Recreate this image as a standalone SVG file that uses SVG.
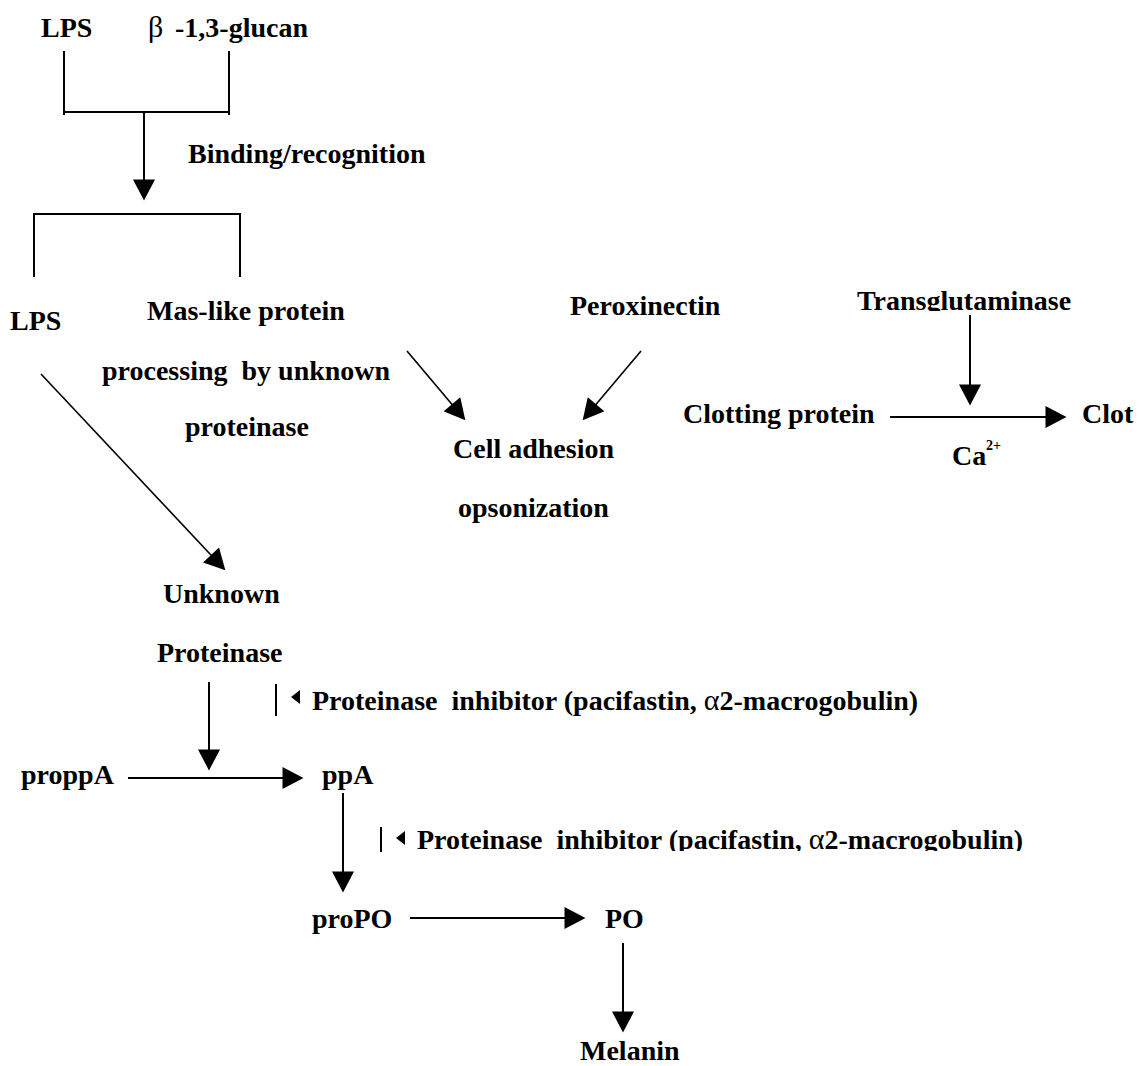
<svg xmlns="http://www.w3.org/2000/svg" width="1139" height="1066" viewBox="0 0 1139 1066">
<style>
text{font-family:"Liberation Serif","Times New Roman",serif;font-weight:bold;font-size:28px;fill:#000}
.gr{font-weight:normal;font-size:30px}
.sup{font-size:14px}
.ln{stroke:#000;stroke-width:2;fill:none}
.dg{stroke:#000;stroke-width:1.6;fill:none}
</style>
<defs>
<marker id="ah" markerUnits="userSpaceOnUse" markerWidth="22" markerHeight="22" refX="10" refY="10.5" orient="auto" viewBox="0 0 20 21">
<path d="M0,0 L20,10.5 L0,21 z" fill="#000"/>
</marker>
<clipPath id="clipT"><rect x="800" y="270" width="339" height="41"/></clipPath>
<clipPath id="clipI2"><rect x="380" y="800" width="759" height="51"/></clipPath>
</defs>
<rect width="1139" height="1066" fill="#fff"/>

<g id="n-lps1"><text x="41" y="37">LPS</text></g>
<g id="n-glucan"><text x="148" y="37"><tspan class="gr">β</tspan><tspan x="175">-1,3-glucan</tspan></text></g>
<g id="n-binding"><text x="188" y="163">Binding/recognition</text></g>
<g id="n-lps2"><text x="10" y="330">LPS</text></g>
<g id="n-mas"><text x="147" y="320">Mas-like protein</text><text x="102" y="380" xml:space="preserve">processing  by unknown</text><text x="185" y="436">proteinase</text></g>
<g id="n-perox"><text x="570" y="315">Peroxinectin</text></g>
<g id="n-cell"><text x="453" y="458">Cell adhesion</text><text x="458" y="517">opsonization</text></g>
<g id="n-trans"><text x="857" y="310" clip-path="url(#clipT)">Transglutaminase</text></g>
<g id="n-clotprot"><text x="683" y="423">Clotting protein</text></g>
<g id="n-clot"><text x="1082" y="423">Clot</text></g>
<g id="n-ca"><text x="952" y="465">Ca<tspan class="sup" x="986" y="450">2+</tspan></text></g>
<g id="n-unknown"><text x="163" y="603">Unknown</text><text x="157" y="662">Proteinase</text></g>
<g id="n-inh1"><path class="ln" d="M276,684 V716"/><path d="M291,697 L300,690 L300,704 z" fill="#000"/><text x="312" y="710" xml:space="preserve">Proteinase  inhibitor (pacifastin, <tspan class="gr">α</tspan>2-macrogobulin)</text></g>
<g id="n-proppa"><text x="21" y="784">proppA</text></g>
<g id="n-ppa"><text x="322" y="784">ppA</text></g>
<g id="n-inh2"><path class="ln" d="M381,827 V852"/><path d="M396,838 L405,831 L405,845 z" fill="#000"/><text x="417" y="849" xml:space="preserve" clip-path="url(#clipI2)">Proteinase  inhibitor (pacifastin, <tspan class="gr">α</tspan>2-macrogobulin)</text></g>
<g id="n-propo"><text x="312" y="928">proPO</text></g>
<g id="n-po"><text x="605" y="928">PO</text></g>
<g id="n-melanin"><text x="580" y="1060">Melanin</text></g>

<g id="connectors">
<path class="ln" d="M64,51 V115 M229,51 V115 M64,112 H229"/>
<path class="ln" d="M144,112 V190" marker-end="url(#ah)"/>
<path class="ln" d="M34,277 V214 H240 V277"/>
<path class="dg" d="M41,374 L218.2,562.7" marker-end="url(#ah)"/>
<path class="dg" d="M407,351 L458.6,412.3" marker-end="url(#ah)"/>
<path class="dg" d="M641,351 L589.4,412.3" marker-end="url(#ah)"/>
<path class="ln" d="M970,315 V395" marker-end="url(#ah)"/>
<path class="ln" d="M890,417 H1056" marker-end="url(#ah)"/>
<path class="ln" d="M209,682 V760" marker-end="url(#ah)"/>
<path class="ln" d="M128,778 H293" marker-end="url(#ah)"/>
<path class="ln" d="M343,793 V882" marker-end="url(#ah)"/>
<path class="ln" d="M410,918 H575" marker-end="url(#ah)"/>
<path class="ln" d="M623,943 V1022" marker-end="url(#ah)"/>
</g>
</svg>
